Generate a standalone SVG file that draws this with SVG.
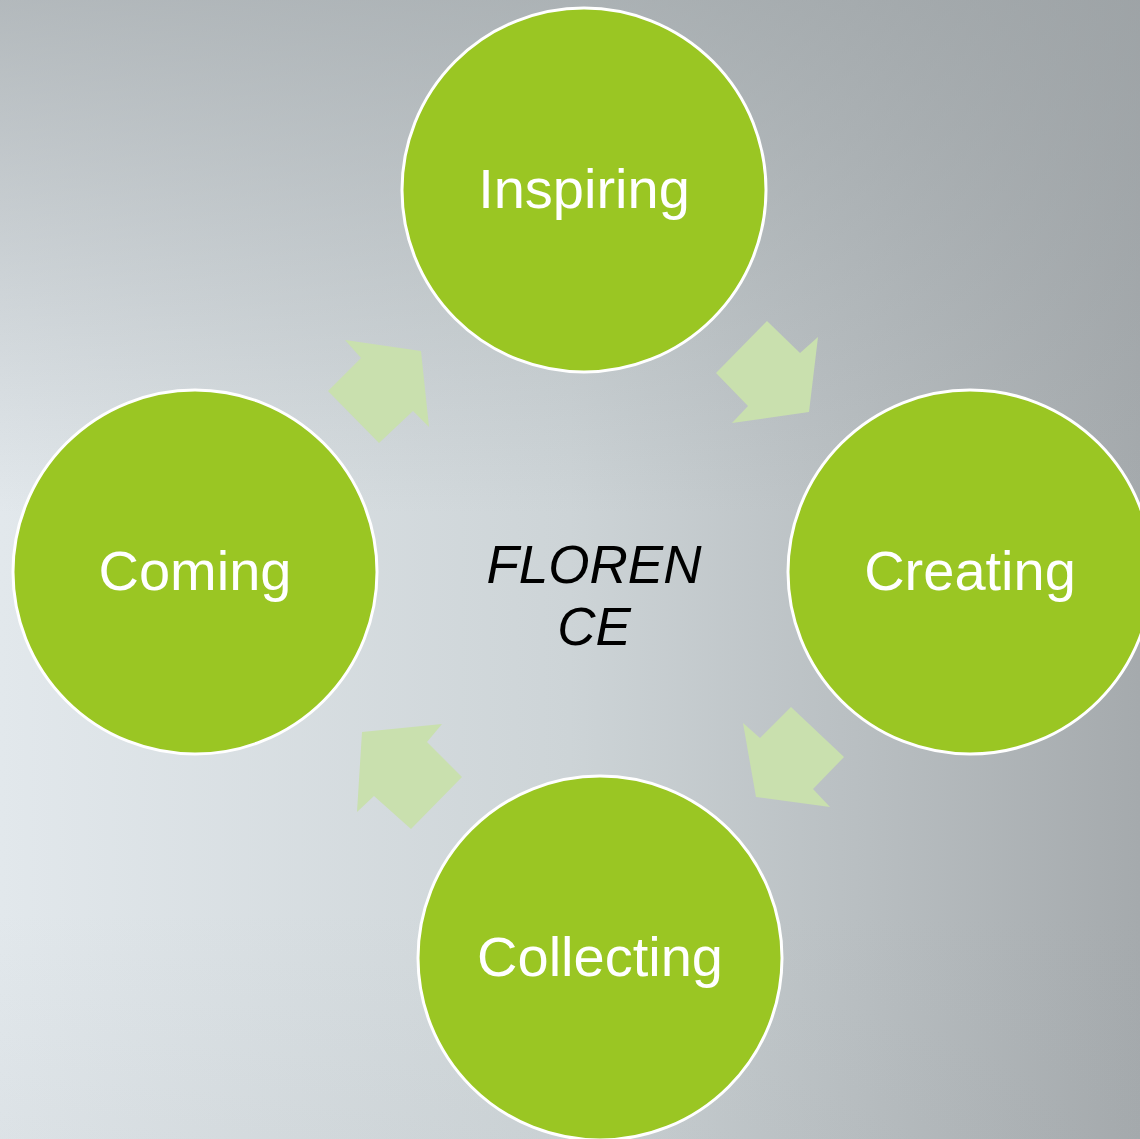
<svg xmlns="http://www.w3.org/2000/svg" width="1140" height="1139" viewBox="0 0 1140 1139">
<defs>
<linearGradient id="bg" x1="0" y1="0" x2="1" y2="0">
<stop offset="0" stop-color="#e2e8ec"/>
<stop offset="0.5" stop-color="#cdd4d7"/>
<stop offset="1" stop-color="#a5aaad"/>
</linearGradient>
<linearGradient id="top" x1="0" y1="0" x2="0" y2="1">
<stop offset="0" stop-color="#9aa0a3" stop-opacity="0.65"/>
<stop offset="0.45" stop-color="#9aa0a3" stop-opacity="0"/>
<stop offset="0.8" stop-color="#9aa0a3" stop-opacity="0"/>
<stop offset="1" stop-color="#9aa0a3" stop-opacity="0.08"/>
</linearGradient>
<style>
.node circle{fill:#9ac623;stroke:#ffffff;stroke-width:3}
.node text{fill:#ffffff;font-family:"Liberation Sans",Arial,sans-serif;font-size:56px;text-anchor:middle}
.arrow{fill:#c9e0ae}
.center{fill:#000000;font-family:"Liberation Sans",Arial,sans-serif;font-size:53px;font-style:italic;text-anchor:middle}
</style>
</defs>
<rect width="1140" height="1139" fill="url(#bg)"/>
<rect width="1140" height="1139" fill="url(#top)"/>
<g id="connectors">
<polygon class="arrow" points="767,321 800,353 818,337 809,412 732,423 748,406 716,373"/>
<polygon class="arrow" points="791,707 844,757 813,789 830,807 756,797 743,723 760,738"/>
<polygon class="arrow" points="442,724 427,742 462,777 411,829 374,796 357,812 362,732"/>
<polygon class="arrow" points="345,340 421,351 429,427 413,411 379,443 328,391 361,358"/>
</g>
<g id="inspiring" class="node">
<circle cx="584" cy="190" r="182"/>
<text x="584" y="208">Inspiring</text>
</g>
<g id="creating" class="node">
<circle cx="970" cy="572" r="182"/>
<text x="970" y="590">Creating</text>
</g>
<g id="collecting" class="node">
<circle cx="600" cy="958" r="182"/>
<text x="600" y="976">Collecting</text>
</g>
<g id="coming" class="node">
<circle cx="195" cy="572" r="182"/>
<text x="195" y="590">Coming</text>
</g>
<g id="center">
<text class="center" x="594" y="583">FLOREN</text>
<text class="center" x="594" y="645">CE</text>
</g>
</svg>
